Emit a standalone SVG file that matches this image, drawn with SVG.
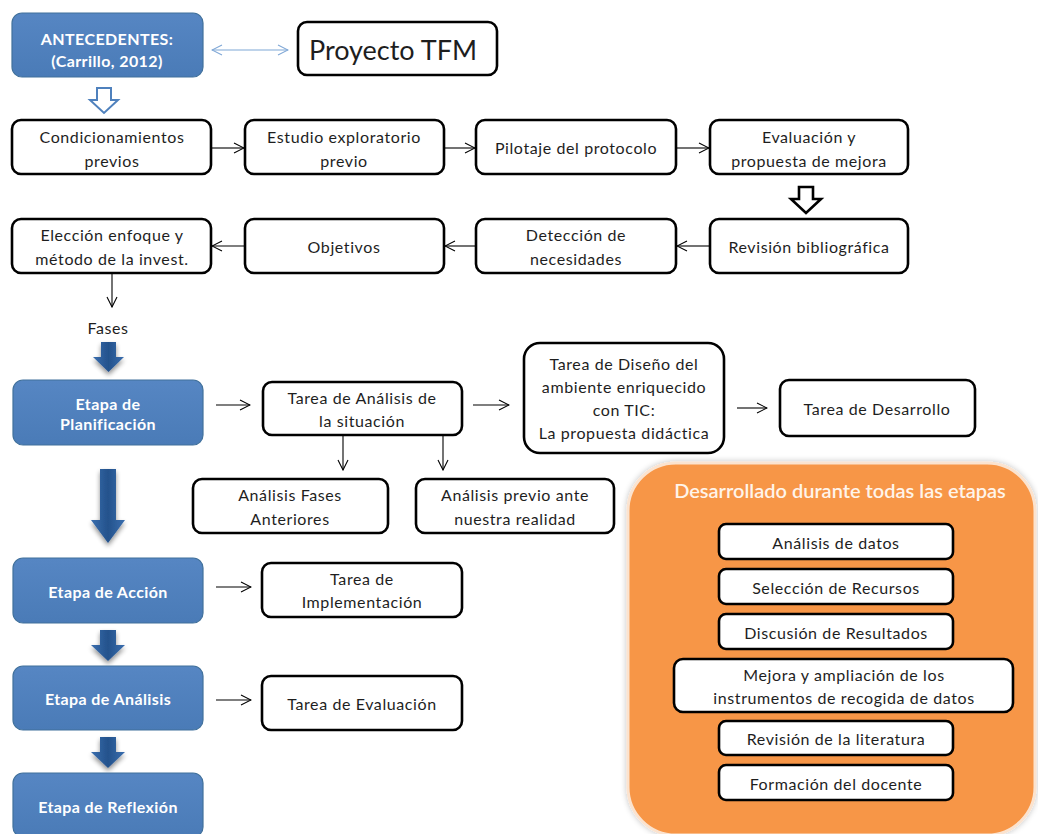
<svg xmlns="http://www.w3.org/2000/svg" width="1038" height="834" viewBox="0 0 1038 834">
  <defs>
    <style>
      .box { fill: #ffffff; stroke: #000000; stroke-width: 2.6; }
      .stage { fill: url(#blueFill); stroke: #41719c; stroke-width: 1.2; }
      .t { font-family: Lato, "Open Sans", "Liberation Sans", sans-serif; font-size: 16px; fill: #1e1e1e; text-anchor: middle; dominant-baseline: central; letter-spacing: 0.6px; }
      .tw { font-family: Lato, "Open Sans", "Liberation Sans", sans-serif; font-size: 16px; font-weight: bold; fill: #ffffff; text-anchor: middle; dominant-baseline: central; letter-spacing: 0.4px; }
      .conn { stroke: #000000; stroke-width: 1.1; fill: none; marker-end: url(#open); }
      .bigArrow { fill: url(#arrowFill); filter: url(#shadow); }
    </style>
    <linearGradient id="blueFill" x1="0" y1="0" x2="0" y2="1">
      <stop offset="0" stop-color="#5686c3"/>
      <stop offset="1" stop-color="#4a7bb7"/>
    </linearGradient>
    <linearGradient id="arrowFill" x1="0" y1="0" x2="1" y2="0">
      <stop offset="0" stop-color="#3a6eae"/>
      <stop offset="0.5" stop-color="#24528c"/>
      <stop offset="1" stop-color="#3a6eae"/>
    </linearGradient>
    <filter id="shadow" x="-50%" y="-30%" width="200%" height="170%">
      <feGaussianBlur in="SourceAlpha" stdDeviation="2.5"/>
      <feOffset dx="0" dy="3" result="b"/>
      <feComponentTransfer><feFuncA type="linear" slope="0.45"/></feComponentTransfer>
      <feMerge><feMergeNode/><feMergeNode in="SourceGraphic"/></feMerge>
    </filter>
    <filter id="glow" x="-10%" y="-10%" width="120%" height="120%">
      <feGaussianBlur in="SourceAlpha" stdDeviation="3"/>
      <feComponentTransfer><feFuncA type="linear" slope="0.25"/></feComponentTransfer>
      <feMerge><feMergeNode/><feMergeNode in="SourceGraphic"/></feMerge>
    </filter>
    <marker id="open" viewBox="0 0 12 12" refX="11" refY="6" markerWidth="12" markerHeight="12" markerUnits="userSpaceOnUse" orient="auto">
      <path d="M1,1 L11,6 L1,11" fill="none" stroke="#000000" stroke-width="1.1"/>
    </marker>
    <marker id="openBlue" viewBox="0 0 12 12" refX="11" refY="6" markerWidth="12" markerHeight="12" markerUnits="userSpaceOnUse" orient="auto-start-reverse">
      <path d="M1,1 L11,6 L1,11" fill="none" stroke="#7fa7d6" stroke-width="1.1"/>
    </marker>
  </defs>

  <rect width="1038" height="834" fill="#ffffff"/>

  <!-- connectors -->
  <g id="connectors">
    <line x1="212" y1="50" x2="288" y2="50" stroke="#7fa7d6" stroke-width="1.2" marker-start="url(#openBlue)" marker-end="url(#openBlue)"/>
    <!-- hollow block arrows -->
    <path d="M97,88 H111 V100 H118 L104,113 L90,100 H97 Z" fill="#ffffff" stroke="#4f81bd" stroke-width="2"/>
    <path d="M799,187 H813 V199 H821 L806,213 L791,199 H799 Z" fill="#ffffff" stroke="#000000" stroke-width="2.6"/>
    <!-- row 1 -->
    <line class="conn" x1="212" y1="148" x2="244" y2="148"/>
    <line class="conn" x1="444" y1="148" x2="475" y2="148"/>
    <line class="conn" x1="677" y1="148" x2="709" y2="148"/>
    <!-- row 2 (right to left) -->
    <line class="conn" x1="709" y1="246" x2="677" y2="246"/>
    <line class="conn" x1="476" y1="246" x2="445" y2="246"/>
    <line class="conn" x1="245" y1="246" x2="212" y2="246"/>
    <line class="conn" x1="112" y1="273" x2="112" y2="307"/>
    <!-- planning -->
    <line class="conn" x1="216" y1="405" x2="250" y2="405"/>
    <line class="conn" x1="473" y1="405" x2="509" y2="405"/>
    <line class="conn" x1="737" y1="408" x2="767" y2="408"/>
    <line class="conn" x1="343" y1="435" x2="343" y2="470"/>
    <line class="conn" x1="443" y1="435" x2="443" y2="470"/>
    <!-- other stages -->
    <line class="conn" x1="216" y1="587" x2="251" y2="587"/>
    <line class="conn" x1="216" y1="700" x2="251" y2="700"/>
    <!-- filled stage arrows -->
    <path class="bigArrow" d="M101,342 H116 V357 H124 L108.5,372 L93,357 H101 Z"/>
    <path class="bigArrow" d="M100,469 H116 V520 H125 L108,543 L91,520 H100 Z"/>
    <path class="bigArrow" d="M100,630 H116 V645 H125 L108,661 L91,645 H100 Z"/>
    <path class="bigArrow" d="M100,737 H116 V752 H125 L108,768 L91,752 H100 Z"/>
  </g>

  <!-- top nodes -->
  <g id="antecedentes">
    <rect class="stage" x="12" y="13" width="191" height="64" rx="10"/>
    <text class="tw" x="107" y="38">ANTECEDENTES:</text>
    <text class="tw" x="107" y="60">(Carrillo, 2012)</text>
  </g>
  <g id="proyecto-tfm">
    <rect class="box" x="298" y="22" width="199" height="53" rx="9"/>
    <text class="t" x="393" y="49" style="font-size:27px;letter-spacing:0">Proyecto TFM</text>
  </g>

  <g id="condicionamientos">
    <rect class="box" x="12" y="120" width="199" height="54" rx="9"/>
    <text class="t" x="112" y="136">Condicionamientos</text>
    <text class="t" x="112" y="160">previos</text>
  </g>
  <g id="estudio-exploratorio">
    <rect class="box" x="245" y="120" width="199" height="54" rx="9"/>
    <text class="t" x="344" y="136">Estudio exploratorio</text>
    <text class="t" x="344" y="160">previo</text>
  </g>
  <g id="pilotaje">
    <rect class="box" x="476" y="120" width="200" height="54" rx="9"/>
    <text class="t" x="576" y="147">Pilotaje del protocolo</text>
  </g>
  <g id="evaluacion-propuesta">
    <rect class="box" x="710" y="120" width="198" height="54" rx="9"/>
    <text class="t" x="809" y="136">Evaluación y</text>
    <text class="t" x="809" y="160">propuesta de mejora</text>
  </g>

  <g id="eleccion-enfoque">
    <rect class="box" x="12" y="219" width="199" height="54" rx="9"/>
    <text class="t" x="112" y="234">Elección enfoque y</text>
    <text class="t" x="112" y="258">método de la invest.</text>
  </g>
  <g id="objetivos">
    <rect class="box" x="245" y="219" width="199" height="54" rx="9"/>
    <text class="t" x="344" y="246">Objetivos</text>
  </g>
  <g id="deteccion">
    <rect class="box" x="476" y="219" width="200" height="54" rx="9"/>
    <text class="t" x="576" y="234">Detección de</text>
    <text class="t" x="576" y="258">necesidades</text>
  </g>
  <g id="revision-bibliografica">
    <rect class="box" x="710" y="219" width="198" height="54" rx="9"/>
    <text class="t" x="809" y="246">Revisión bibliográfica</text>
  </g>

  <g id="fases">
    <text class="t" x="108" y="327">Fases</text>
  </g>

  <!-- stages -->
  <g id="etapa-planificacion">
    <rect class="stage" x="13" y="380" width="190" height="65" rx="10"/>
    <text class="tw" x="108" y="403">Etapa de</text>
    <text class="tw" x="108" y="423">Planificación</text>
  </g>
  <g id="tarea-analisis-situacion">
    <rect class="box" x="263" y="382" width="199" height="53" rx="9"/>
    <text class="t" x="362" y="397">Tarea de Análisis de</text>
    <text class="t" x="362" y="420">la situación</text>
  </g>
  <g id="tarea-diseno">
    <rect class="box" x="524" y="343" width="200" height="110" rx="16"/>
    <text class="t" x="624" y="363">Tarea de Diseño del</text>
    <text class="t" x="624" y="386">ambiente enriquecido</text>
    <text class="t" x="624" y="409">con TIC:</text>
    <text class="t" x="624" y="432">La propuesta didáctica</text>
  </g>
  <g id="tarea-desarrollo">
    <rect class="box" x="780" y="380" width="195" height="56" rx="9"/>
    <text class="t" x="877" y="408">Tarea de Desarrollo</text>
  </g>
  <g id="analisis-fases-anteriores">
    <rect class="box" x="193" y="479" width="195" height="54" rx="9"/>
    <text class="t" x="290" y="494">Análisis Fases</text>
    <text class="t" x="290" y="518">Anteriores</text>
  </g>
  <g id="analisis-previo">
    <rect class="box" x="416" y="479" width="198" height="54" rx="9"/>
    <text class="t" x="515" y="494">Análisis previo ante</text>
    <text class="t" x="515" y="518">nuestra realidad</text>
  </g>

  <g id="etapa-accion">
    <rect class="stage" x="13" y="558" width="190" height="65" rx="10"/>
    <text class="tw" x="108" y="591">Etapa de Acción</text>
  </g>
  <g id="tarea-implementacion">
    <rect class="box" x="262" y="563" width="200" height="54" rx="9"/>
    <text class="t" x="362" y="578">Tarea de</text>
    <text class="t" x="362" y="601">Implementación</text>
  </g>
  <g id="etapa-analisis">
    <rect class="stage" x="13" y="666" width="190" height="64" rx="10"/>
    <text class="tw" x="108" y="698">Etapa de Análisis</text>
  </g>
  <g id="tarea-evaluacion">
    <rect class="box" x="262" y="676" width="200" height="54" rx="9"/>
    <text class="t" x="362" y="703">Tarea de Evaluación</text>
  </g>
  <g id="etapa-reflexion">
    <rect class="stage" x="13" y="773" width="190" height="64" rx="10"/>
    <text class="tw" x="108" y="806">Etapa de Reflexión</text>
  </g>

  <!-- cross-cutting activities -->
  <g id="desarrollado-todas-etapas">
    <rect x="628" y="463" width="407" height="372" rx="48" fill="#f79646" stroke="#fbe3cf" stroke-width="3" filter="url(#glow)"/>
    <text class="tw" x="840" y="490" style="font-size:20px;font-weight:600;fill:#fff4ea;letter-spacing:0">Desarrollado durante todas las etapas</text>
  </g>
  <g id="analisis-datos">
    <rect class="box" x="719" y="524" width="234" height="35" rx="7"/>
    <text class="t" x="836" y="542">Análisis de datos</text>
  </g>
  <g id="seleccion-recursos">
    <rect class="box" x="719" y="569" width="234" height="35" rx="7"/>
    <text class="t" x="836" y="587">Selección de Recursos</text>
  </g>
  <g id="discusion-resultados">
    <rect class="box" x="719" y="614" width="234" height="35" rx="7"/>
    <text class="t" x="836" y="632">Discusión de Resultados</text>
  </g>
  <g id="mejora-instrumentos">
    <rect class="box" x="674" y="659" width="339" height="53" rx="9"/>
    <text class="t" x="844" y="674">Mejora y ampliación de los</text>
    <text class="t" x="844" y="697">instrumentos de recogida de datos</text>
  </g>
  <g id="revision-literatura">
    <rect class="box" x="719" y="721" width="234" height="34" rx="7"/>
    <text class="t" x="836" y="738">Revisión de la literatura</text>
  </g>
  <g id="formacion-docente">
    <rect class="box" x="719" y="765" width="234" height="35" rx="7"/>
    <text class="t" x="836" y="783">Formación del docente</text>
  </g>
</svg>
